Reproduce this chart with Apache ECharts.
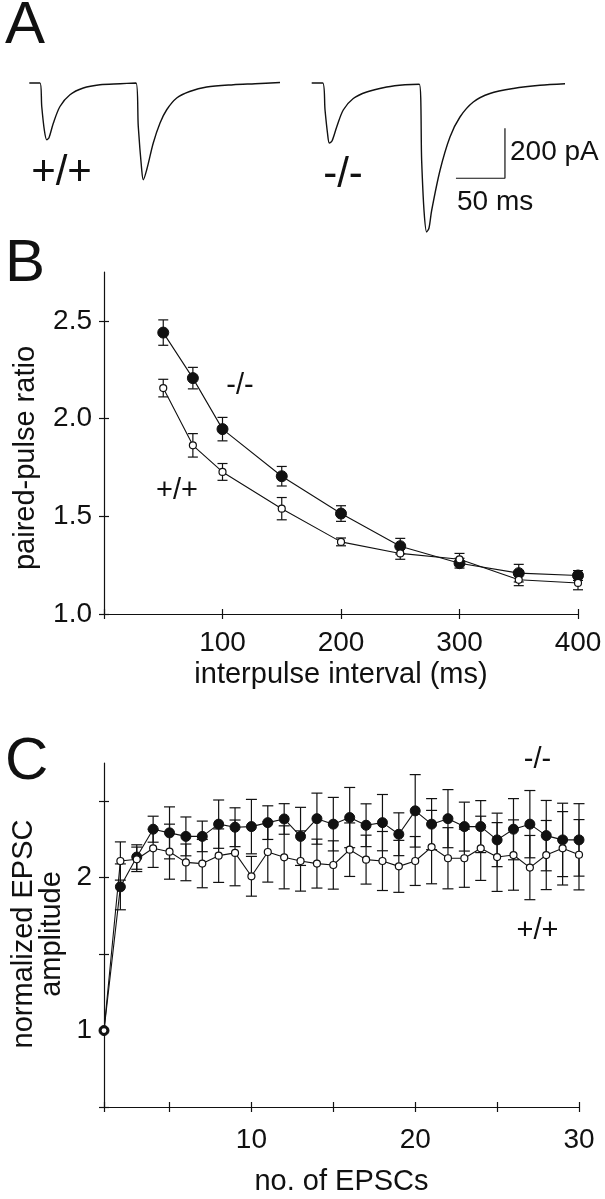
<!DOCTYPE html>
<html>
<head>
<meta charset="utf-8">
<script src="https://cdn.jsdelivr.net/npm/echarts@6/dist/echarts.min.js"></script>
<style>
html,body{margin:0;padding:0;background:#fff;}
#chart{width:605px;height:1199px;}
</style>
</head>
<body>
<div id="chart"></div>
<script>
// ---------- Panel A: example EPSC traces (time in ms, current in pA) ----------
const traceWT_t  = [0, 10.9, 12.7, 15.3, 17.8, 20.1, 24.5, 31.3, 41.5, 55.1, 72.1, 92.6, 108.9, 111.2, 114.7, 116.3, 119.8, 126.5, 133.4, 140.2, 150.4, 163.6, 181, 208.2, 230.3, 255.8];
const traceWT_pA = [0, 0, -94, -187, -227, -219, -161, -94, -47, -20, -7, -3, 0, -174, -347, -387, -347, -240, -160, -107, -60, -34, -16, -7, -3, 2];
const traceKO_t  = [0, 11.2, 13.6, 16.1, 18, 20.7, 25.5, 32.2, 42.4, 56.1, 76.5, 95.2, 109.8, 112.2, 114.6, 117.3, 119.7, 122.4, 130.9, 141.1, 151.3, 164.9, 181.9, 205.7, 232.9, 258.5];
const traceKO_pA = [0, 0, -108, -200, -240, -232, -176, -108, -62, -36, -16, -7, -5, -310, -510, -596, -580, -510, -350, -216, -136, -76, -42, -22, -9, -3];
const scaleBarMs = 50;
const scaleBarPa = 200;

// ---------- Panel B: paired-pulse ratio ----------
const ppInterval = [50, 75, 100, 150, 200, 250, 300, 350, 400];
const ppKO    = [2.44, 2.207, 1.946, 1.705, 1.514, 1.347, 1.26, 1.209, 1.197];
const ppKOerr = [0.065, 0.055, 0.06, 0.05, 0.04, 0.04, 0.025, 0.045, 0.025];
const ppWT    = [2.156, 1.863, 1.727, 1.539, 1.369, 1.31, 1.28, 1.175, 1.159];
const ppWTerr = [0.045, 0.06, 0.043, 0.057, 0.02, 0.03, 0.03, 0.03, 0.035];
const ppYTicks = [1.0, 1.5, 2.0, 2.5];
const ppXLabels = [100, 200, 300, 400];

// ---------- Panel C: normalized EPSC amplitude ----------
const epscNo = [1,2,3,4,5,6,7,8,9,10,11,12,13,14,15,16,17,18,19,20,21,22,23,24,25,26,27,28,29,30];
const epscKO = [1.0, 1.94, 2.135, 2.317, 2.293, 2.27, 2.27, 2.35, 2.33, 2.334, 2.36, 2.384, 2.27, 2.386, 2.35, 2.393, 2.343, 2.36, 2.284, 2.437, 2.35, 2.386, 2.334, 2.334, 2.247, 2.317, 2.35, 2.275, 2.247, 2.247];
const epscKOerr = [0, 0.15, 0.08, 0.085, 0.17, 0.127, 0.1, 0.158, 0.127, 0.178, 0.11, 0.1, 0.19, 0.167, 0.175, 0.197, 0.14, 0.184, 0.14, 0.237, 0.167, 0.19, 0.16, 0.17, 0.175, 0.2, 0.22, 0.23, 0.24, 0.237];
const epscWT = [1.0, 2.109, 2.12, 2.192, 2.17, 2.1, 2.092, 2.144, 2.162, 2.009, 2.168, 2.133, 2.109, 2.092, 2.083, 2.183, 2.118, 2.109, 2.074, 2.109, 2.2, 2.127, 2.127, 2.192, 2.135, 2.148, 2.066, 2.148, 2.192, 2.15];
const epscWTerr = [0, 0.125, 0.08, 0.125, 0.18, 0.12, 0.158, 0.175, 0.215, 0.13, 0.197, 0.206, 0.197, 0.16, 0.158, 0.175, 0.16, 0.193, 0.17, 0.16, 0.24, 0.2, 0.19, 0.21, 0.225, 0.23, 0.21, 0.226, 0.24, 0.23];
const epscYTicks = [0.5, 1, 1.5, 2, 2.5];
const epscYLabels = [1, 2];
const epscXTicks = [1, 5, 10, 15, 20, 25, 30];
const epscXLabels = [10, 20, 30];

// ---------- build ----------
const FONT = "'Liberation Sans', Arial, Helvetica, sans-serif";
const INK = '#111';
const zip = (a, b) => a.map((v, i) => [v, b[i]]);
const errData = (xs, ys, es) => xs.map((x, i) => [x, ys[i] - es[i], ys[i] + es[i]]);

function errRender(capW) {
  return function (params, api) {
    const x = api.value(0), lo = api.value(1), hi = api.value(2);
    if (hi - lo <= 0) return null;
    const p1 = api.coord([x, lo]), p2 = api.coord([x, hi]);
    const st = { stroke: INK, lineWidth: 1.2 };
    return {
      type: 'group',
      children: [
        { type: 'line', shape: { x1: p1[0], y1: p1[1], x2: p2[0], y2: p2[1] }, style: st },
        { type: 'line', shape: { x1: p1[0] - capW / 2, y1: p1[1], x2: p1[0] + capW / 2, y2: p1[1] }, style: st },
        { type: 'line', shape: { x1: p2[0] - capW / 2, y1: p2[1], x2: p2[0] + capW / 2, y2: p2[1] }, style: st }
      ]
    };
  };
}

const axisLine = { show: true, lineStyle: { color: INK, width: 1.2 } };
const labelStyle = { color: INK, fontSize: 28, fontFamily: FONT };

const gridA1 = { left: 29.3, top: 60, width: 254.8, height: 180 };
const gridA2 = { left: 311.7, top: 60, width: 254.8, height: 180 };
const gridB = { left: 104, top: 272, width: 474, height: 342 };
const gridC = { left: 104, top: 763, width: 475, height: 344 };

const hiddenX = (g) => ({ type: 'value', gridIndex: g, min: 0, max: 260, show: false });
const hiddenY = (g) => ({ type: 'value', gridIndex: g, min: -628, max: 92, show: false });

const xAxes = [
  hiddenX(0), hiddenX(1),
  { // B main
    type: 'value', gridIndex: 2, min: 0, max: 400, interval: 100, position: 'bottom',
    axisLine, splitLine: { show: false },
    axisTick: { show: true, inside: false, length: 5, lineStyle: { color: INK, width: 1.2 } },
    axisLabel: { ...labelStyle, margin: 15, customValues: ppXLabels },
    name: 'interpulse interval (ms)', nameLocation: 'middle', nameGap: 46,
    nameTextStyle: { color: INK, fontSize: 29, fontFamily: FONT }
  },
  { // B inner ticks
    type: 'value', gridIndex: 2, min: 0, max: 400, interval: 100, position: 'bottom',
    axisLine: { show: false }, splitLine: { show: false }, axisLabel: { show: false },
    axisTick: { show: true, inside: true, length: 5, lineStyle: { color: INK, width: 1.2 } }
  },
  { // C main
    type: 'value', gridIndex: 3, min: 1, max: 30, position: 'bottom',
    axisLine, splitLine: { show: false },
    axisTick: { show: true, inside: false, length: 5, customValues: epscXTicks, lineStyle: { color: INK, width: 1.2 } },
    axisLabel: { ...labelStyle, margin: 19, customValues: epscXLabels },
    name: 'no. of EPSCs', nameLocation: 'middle', nameGap: 60,
    nameTextStyle: { color: INK, fontSize: 29, fontFamily: FONT }
  },
  { // C inner ticks
    type: 'value', gridIndex: 3, min: 1, max: 30, position: 'bottom',
    axisLine: { show: false }, splitLine: { show: false }, axisLabel: { show: false },
    axisTick: { show: true, inside: true, length: 5, customValues: epscXTicks, lineStyle: { color: INK, width: 1.2 } }
  }
];

const yAxes = [
  hiddenY(0), hiddenY(1),
  { // B main
    type: 'value', gridIndex: 2, min: 1.0, max: 2.75, position: 'left',
    axisLine, splitLine: { show: false },
    axisTick: { show: true, inside: false, length: 5, customValues: ppYTicks, lineStyle: { color: INK, width: 1.2 } },
    axisLabel: { ...labelStyle, margin: 12, customValues: ppYTicks, formatter: (v) => Number(v).toFixed(1) }
  },
  { // B inner ticks
    type: 'value', gridIndex: 2, min: 1.0, max: 2.75, position: 'left',
    axisLine: { show: false }, splitLine: { show: false }, axisLabel: { show: false },
    axisTick: { show: true, inside: true, length: 5, customValues: ppYTicks, lineStyle: { color: INK, width: 1.2 } }
  },
  { // C main
    type: 'value', gridIndex: 3, min: 0.5, max: 2.75, position: 'left',
    axisLine, splitLine: { show: false },
    axisTick: { show: true, inside: false, length: 5, customValues: epscYTicks, lineStyle: { color: INK, width: 1.2 } },
    axisLabel: { ...labelStyle, margin: 12, customValues: epscYLabels }
  },
  { // C inner ticks
    type: 'value', gridIndex: 3, min: 0.5, max: 2.75, position: 'left',
    axisLine: { show: false }, splitLine: { show: false }, axisLabel: { show: false },
    axisTick: { show: true, inside: true, length: 5, customValues: epscYTicks, lineStyle: { color: INK, width: 1.2 } }
  }
];

const traceStyle = { color: INK, width: 1.4 };
const filledDot = (size) => ({ symbol: 'circle', symbolSize: size, itemStyle: { color: INK, borderColor: INK, borderWidth: 1 } });
const openDot = (size) => ({ symbol: 'circle', symbolSize: size, itemStyle: { color: '#fff', borderColor: INK, borderWidth: 1.2 } });

const series = [
  // Panel A traces
  { type: 'line', xAxisIndex: 0, yAxisIndex: 0, data: zip(traceWT_t, traceWT_pA), showSymbol: false, smooth: 0.3, lineStyle: traceStyle, silent: true },
  { type: 'line', xAxisIndex: 1, yAxisIndex: 1, data: zip(traceKO_t, traceKO_pA), showSymbol: false, smooth: 0.3, lineStyle: traceStyle, silent: true },
  // scale bar: 50 ms horizontal, 200 pA vertical
  { type: 'line', xAxisIndex: 1, yAxisIndex: 1, showSymbol: false, lineStyle: { color: INK, width: 1.2 }, silent: true,
    data: [[197.2 - scaleBarMs, -381], [197.2, -381], [197.2, -381 + scaleBarPa]] },

  // Panel B
  { type: 'custom', xAxisIndex: 2, yAxisIndex: 2, renderItem: errRender(10), data: errData(ppInterval, ppKO, ppKOerr), z: 2 },
  { type: 'custom', xAxisIndex: 2, yAxisIndex: 2, renderItem: errRender(10), data: errData(ppInterval, ppWT, ppWTerr), z: 2 },
  { type: 'line', xAxisIndex: 2, yAxisIndex: 2, data: zip(ppInterval, ppKO), lineStyle: { color: INK, width: 1.1 }, ...filledDot(11), z: 3 },
  { type: 'line', xAxisIndex: 2, yAxisIndex: 2, data: zip(ppInterval, ppWT), lineStyle: { color: INK, width: 1.1 }, ...openDot(7), z: 4 },

  // Panel C
  { type: 'custom', xAxisIndex: 4, yAxisIndex: 4, renderItem: errRender(11), data: errData(epscNo, epscKO, epscKOerr), z: 2 },
  { type: 'custom', xAxisIndex: 4, yAxisIndex: 4, renderItem: errRender(11), data: errData(epscNo, epscWT, epscWTerr), z: 2 },
  { type: 'line', xAxisIndex: 4, yAxisIndex: 4, data: zip(epscNo, epscKO), lineStyle: { color: INK, width: 1.1 }, ...filledDot(10), z: 3 },
  { type: 'line', xAxisIndex: 4, yAxisIndex: 4,
    data: zip(epscNo, epscWT).map((d, i) => i === 0 ? { value: d, itemStyle: { borderWidth: 2.2 } } : d),
    lineStyle: { color: INK, width: 1.1 }, ...openDot(7), z: 4 }
];

const txt = (text, x, y, size, extra) => ({
  type: 'text', x, y, silent: true,
  style: Object.assign({ text, fill: INK, font: `${size}px ${FONT}`, align: 'left', verticalAlign: 'middle' }, extra || {})
});

const graphic = [
  txt('A', 5, 26, 60),
  txt('B', 5, 264, 60),
  txt('C', 5, 762, 60),
  txt('+/+', 61.5, 173, 42, { align: 'center' }),
  txt('-/-', 343, 175, 42, { align: 'center' }),
  txt('200 pA', 510, 152, 28),
  txt('50 ms', 457, 202, 28),
  txt('-/-', 240, 386, 29, { align: 'center' }),
  txt('+/+', 177, 491, 29, { align: 'center' }),
  txt('-/-', 537.5, 760, 29, { align: 'center' }),
  txt('+/+', 537.5, 931, 29, { align: 'center' }),
  { type: 'text', x: 26, y: 458, rotation: Math.PI / 2, silent: true,
    style: { text: 'paired-pulse ratio', fill: INK, font: `29px ${FONT}`, align: 'center', verticalAlign: 'middle' } },
  { type: 'text', x: 38, y: 934, rotation: Math.PI / 2, silent: true,
    style: { text: 'normalized EPSC\namplitude', fill: INK, font: `29px ${FONT}`, align: 'center', verticalAlign: 'middle', lineHeight: 28 } }
];

const chart = echarts.init(document.getElementById('chart'), null, { renderer: 'canvas' });
chart.setOption({
  animation: false,
  backgroundColor: '#fff',
  grid: [gridA1, gridA2, gridB, gridC],
  xAxis: xAxes,
  yAxis: yAxes,
  series,
  graphic
});
</script>
</body>
</html>
